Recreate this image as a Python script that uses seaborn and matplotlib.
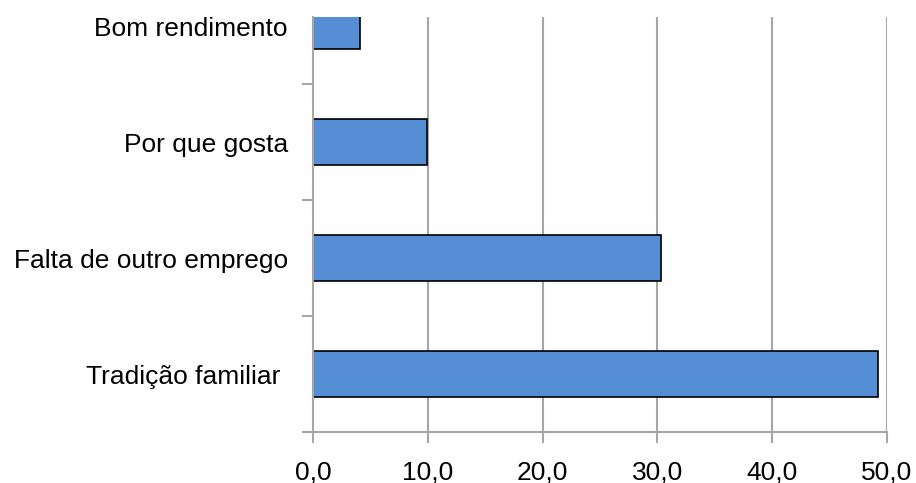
import matplotlib
matplotlib.use("Agg")
import matplotlib.pyplot as plt
import seaborn as sns
import pandas as pd

categories = ["Bom rendimento", "Por que gosta", "Falta de outro emprego", "Tradição familiar "]
values = [4.1, 9.9, 30.3, 49.2]
xticks = [0, 10, 20, 30, 40, 50]
xticklabels = ["0,0", "10,0", "20,0", "30,0", "40,0", "50,0"]

sns.set_theme(style="white")
plt.rcParams['font.family'] = ['Liberation Sans', 'DejaVu Sans']

df = pd.DataFrame({"cat": categories, "val": values})

fig = plt.figure(figsize=(9.16, 4.83), dpi=100)
ax = fig.add_axes([313/916, 1-432/483, (887-313)/916, (432-17)/483])

grid_c = "#A6A6A6"
for xv in xticks[1:]:
    ax.axvline(xv, color=grid_c, lw=1.5, zorder=0)

sns.barplot(data=df, x="val", y="cat", orient="h", order=categories,
            color="#558ED5", saturation=1, edgecolor="black", linewidth=1.2,
            width=0.4, ax=ax, zorder=3)

ax.set_xlim(0, 50)
ax.set_ylim(3.5, -0.078)
ax.set_xticks(xticks)
ax.set_xticklabels(xticklabels, fontsize=19, color="black")
ax.set_yticks(range(len(categories)))
ax.set_yticklabels(categories, fontsize=19, color="black")
ax.set_yticks([0.5, 1.5, 2.5, 3.5], minor=True)
ax.tick_params(axis='y', which='major', length=0, pad=18)
ax.tick_params(axis='y', which='minor', length=8, width=1.5, color=grid_c, left=True)
ax.tick_params(axis='x', which='major', length=8, width=1.5, color=grid_c, pad=12.5, bottom=True)
ax.set_xlabel("")
ax.set_ylabel("")
for s in ["top", "right"]:
    ax.spines[s].set_visible(False)
for s in ["left", "bottom"]:
    ax.spines[s].set_color(grid_c)
    ax.spines[s].set_linewidth(1.5)
    ax.spines[s].set_zorder(4)

fig.savefig("out.png", dpi=100)
